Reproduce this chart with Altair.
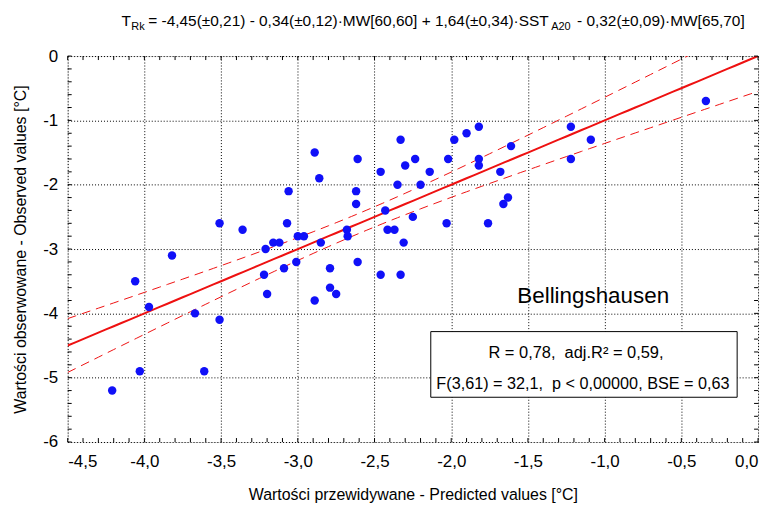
import altair as alt
import numpy as np
import pandas as pd

# ---------------- data ----------------
predicted = [-4.21, -4.03, -3.61, -4.06, -3.97, -3.82, -3.67, -3.51, -3.51, -3.36,
             -3.21, -3.22, -3.20, -3.16, -3.12, -3.07, -3.06, -3.09, -3.01, -3.00,
             -2.96, -2.89, -2.86, -2.85, -2.89, -2.79, -2.79, -2.75, -2.68, -2.675,
             -2.61, -2.62, -2.62, -2.61, -2.46, -2.43, -2.415, -2.37, -2.46, -2.35,
             -2.33, -2.33, -2.31, -2.30, -2.25, -2.235, -2.20, -2.14, -2.03, -2.02,
             -1.98, -1.90, -1.82, -1.82, -1.82, -1.76, -1.68, -1.63, -1.66, -1.61,
             -1.22, -1.22, -1.09, -0.34]
observed = [-5.2, -4.9, -4.9, -3.5, -3.9, -3.1, -4.0, -4.1, -2.6, -2.7,
            -3.0, -3.4, -3.7, -2.9, -2.9, -2.6, -2.1, -3.3, -3.2, -2.8,
            -2.8, -1.5, -1.9, -2.9, -3.8, -3.3, -3.6, -3.7, -2.7, -2.8,
            -1.6, -2.1, -2.3, -3.2, -1.8, -2.4, -2.7, -2.7, -3.4, -2.0,
            -1.3, -3.4, -2.9, -1.7, -2.5, -1.6, -2.0, -1.8, -2.6, -1.6,
            -1.3, -1.2, -1.1, -1.6, -1.7, -2.6, -1.8, -2.2, -2.3, -1.4,
            -1.1, -1.6, -1.3, -0.7]

x_ticks = [-4.5, -4.0, -3.5, -3.0, -2.5, -2.0, -1.5, -1.0, -0.5, 0.0]
y_ticks = [-6, -5, -4, -3, -2, -1, 0]

NB = "\u00a0"
title_T = "T"
title_Rk = "Rk"
title_mid = "= -4,45(±0,21) - 0,34(±0,12)·MW[60,60] + 1,64(±0,34)·SST"
title_A20 = "A20"
title_end = "- 0,32(±0,09)·MW[65,70]"
stats_line1 = "R = 0,78," + NB + NB + "adj.R² = 0,59,"
stats_line2 = "F(3,61) = 32,1," + NB + NB + "p < 0,00000, BSE = 0,63"
station = "Bellingshausen"
x_title = "Wartości przewidywane - Predicted values [°C]"
y_title = "Wartości obserwowane - Observed values [°C]"

# regression of observed on predicted (slope 1, intercept 0) and its 95% band
n_obs = 65          # from F(3,61)
bse = 0.63
t_crit = 1.998
slope, intercept = 1.0, 0.0

FONT = "Liberation Sans"
W, H = 694, 388
RED = "#ee1111"
BLUE = "#1010f8"

pts = pd.DataFrame({"pred": predicted, "obs": observed})

xa = np.array(predicted)
xbar = xa.mean()
sxx = ((xa - xbar) ** 2).sum() * n_obs / len(xa)
fx = np.linspace(-4.5, 0.0, 91)
fy = slope * fx + intercept
half = t_crit * bse * np.sqrt(1.0 / n_obs + (fx - xbar) ** 2 / sxx)
fit = pd.DataFrame({"x": fx, "fit": fy, "lo": fy - half, "hi": fy + half})

xs = alt.Scale(domain=[-4.5, 0.0], nice=False, zero=False)
ys = alt.Scale(domain=[-6, 0], nice=False, zero=False)

axis_common = dict(grid=True, gridColor="black", gridDash=[1, 2], gridOpacity=1,
                   gridWidth=1, ticks=False, tickSize=0, domain=False,
                   labelFont=FONT, labelFontSize=17, labelColor="black",
                   titleFont=FONT, titleFontSize=16, titleFontWeight="normal",
                   titleColor="black")
AX = alt.Axis(values=x_ticks, title=x_title, labelPadding=12, titlePadding=17,
              labelExpr="replace(replace(format(datum.value, '.1f'), '.', ','), '\u2212', '-')",
              **axis_common)
AY = alt.Axis(values=y_ticks, title=y_title, labelPadding=10, titlePadding=14,
              labelExpr="replace(format(datum.value, 'd'), '\u2212', '-')",
              **axis_common)


def X(field):
    return alt.X(field, scale=xs, axis=AX)


def Y(field):
    return alt.Y(field, scale=ys, axis=AY)


points = alt.Chart(pts).mark_circle(size=72, color=BLUE, opacity=1).encode(
    x=X("pred:Q"), y=Y("obs:Q"))

line = alt.Chart(fit).mark_line(color=RED, strokeWidth=2, clip=True).encode(
    x=X("x:Q"), y=Y("fit:Q"))
band_hi = alt.Chart(fit).mark_line(color=RED, strokeWidth=1, strokeDash=[9, 6], clip=True).encode(
    x=X("x:Q"), y=Y("hi:Q"))
band_lo = alt.Chart(fit).mark_line(color=RED, strokeWidth=1, strokeDash=[9, 6], clip=True).encode(
    x=X("x:Q"), y=Y("lo:Q"))

xminor = pd.DataFrame({"t": np.round(np.arange(-4.5, 0.0001, 0.1), 2)})
yminor = pd.DataFrame({"t": np.round(np.arange(-6.0, 0.0001, 0.2), 2)})
tick_b = alt.Chart(xminor).mark_rule(color="black", strokeWidth=1).encode(
    x=X("t:Q"), y=alt.value(H), y2=alt.value(H - 4))
tick_t = alt.Chart(xminor).mark_rule(color="black", strokeWidth=1).encode(
    x=X("t:Q"), y=alt.value(0), y2=alt.value(4))
tick_l = alt.Chart(yminor).mark_rule(color="black", strokeWidth=1).encode(
    y=Y("t:Q"), x=alt.value(0), x2=alt.value(4))
tick_r = alt.Chart(yminor).mark_rule(color="black", strokeWidth=1).encode(
    y=Y("t:Q"), x=alt.value(W), x2=alt.value(W - 4))


def label(text, x, y, size=16, align="left", font=FONT):
    return alt.Chart(pd.DataFrame({"s": [text]})).mark_text(
        align=align, baseline="alphabetic", font=font, fontSize=size, color="black"
    ).encode(x=alt.value(x), y=alt.value(y), text="s:N")


box = alt.Chart(pd.DataFrame({"s": [""]})).mark_rect(
    fill="white", stroke="black", strokeWidth=1).encode(
    x=alt.value(365), x2=alt.value(673), y=alt.value(277), y2=alt.value(343))

texts = [
    label(title_T, 54, -30, size=15.5),
    label(title_Rk, 64, -26, size=11),
    label(title_mid, 81, -30, size=15.5),
    label(title_A20, 486, -26, size=11),
    label(title_end, 512, -30, size=15.5),
    label(station, 452, 248, size=22.5),
    label(stats_line1, 511, 304, size=16.5, align="center"),
    label(stats_line2, 518, 335, size=16.3, align="center"),
]

chart = alt.layer(box, band_hi, band_lo, line, points, tick_b, tick_t,
                  tick_l, tick_r, *texts).properties(
    width=W, height=H,
    padding={"left": 60, "top": 47, "right": 8, "bottom": 64},
    autosize=alt.AutoSizeParams(type="none"),
).configure_view(stroke="black", strokeWidth=1).configure(background="white")

chart.save("out.html", embed_options={"renderer": "svg", "actions": False})
